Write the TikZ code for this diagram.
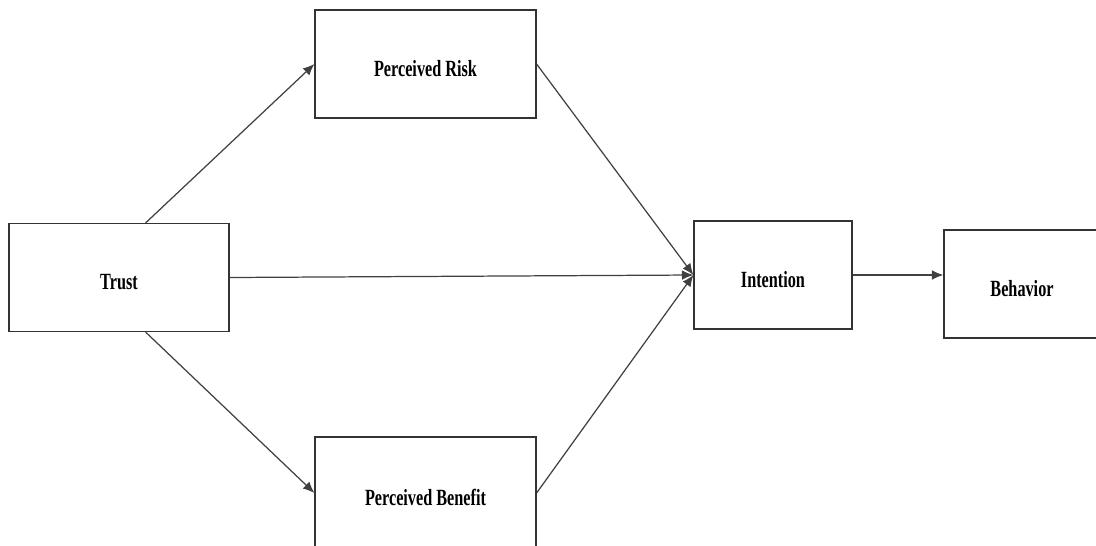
\documentclass[tikz,border=0pt]{standalone}
\usepackage{fontspec}
\setmainfont{Liberation Serif}
\usetikzlibrary{arrows.meta}
\newcommand{\slim}[1]{\scalebox{0.7}[1]{\bfseries #1}}

\begin{document}
\begin{tikzpicture}[x=0.02cm,y=-0.02cm,
  var/.style={draw=black!80,line width=0.7pt,minimum height=2.16cm,inner sep=0pt,
    text height=14pt,text depth=0pt,font=\fontsize{13.2}{15}\selectfont},
  link/.style={draw=black!75,line width=0.7pt,-{Latex[length=6.5pt,width=5.5pt]}}]
\useasboundingbox (0,0) rectangle (1096,545);
\clip (0,0) rectangle (1096,545);
\node[var,minimum width=4.42cm] (risk) at (425.5,64) {\slim{Perceived Risk}};
\node[var,minimum width=4.4cm] (trust) at (119,277.5) {\slim{Trust}};
\node[var,minimum width=4.42cm,minimum height=2.24cm] (benefit) at (425.5,493) {\slim{Perceived Benefit}};
\node[var,minimum width=3.16cm] (intention) at (773,275) {\slim{Intention}};
\node[var,minimum width=3.12cm] (behavior) at (1022,284) {\slim{Behavior}};
\draw[link] (trust.64) -- (risk.west);
\draw[link] (trust.-64) -- (benefit.west);
\draw[link] (trust.east) -- (intention.west);
\draw[link] (risk.east) -- (intention.west);
\draw[link] (benefit.east) -- (intention.west);
\draw[link] (intention.east) -- (intention.east -| behavior.west);
\end{tikzpicture}
\end{document}
